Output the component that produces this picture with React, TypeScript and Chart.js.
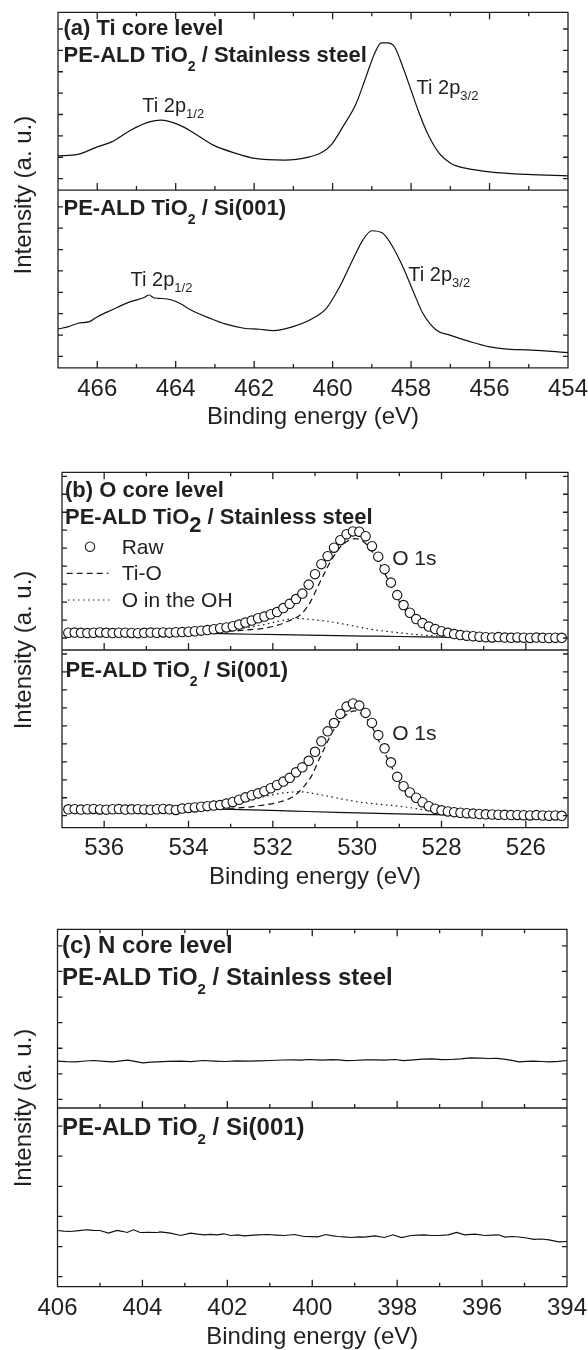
import React, { useEffect, useRef } from "react";
import { Chart, registerables } from "chart.js";

Chart.register(...registerables);

const FONT = '"Liberation Sans", Arial, Helvetica, sans-serif';
const INK = "#231f20";

// ---------------- (a) Ti core level ----------------
const tiTicks = [466, 464, 462, 460, 458, 456, 454];
const tiSteelBE = [467.0, 466.5, 466.0, 465.63, 465.15, 464.67, 464.38, 463.9, 463.52, 463.04, 462.46, 461.98, 461.22, 460.59, 460.29, 460.04, 459.74, 459.4, 459.15, 458.93, 458.76, 458.6, 458.42, 458.21, 458.0, 457.79, 457.58, 457.28, 456.98, 456.85, 456.59, 456.0, 455.05, 454.0];
const tiSteelInt = [34.3, 35.7, 43.3, 48.3, 60, 68.3, 70, 65, 56.7, 45, 36.7, 31.7, 30, 33.3, 37.3, 45, 63.3, 86.7, 113.3, 136.7, 147.3, 147.3, 143.3, 123.3, 100, 76.7, 56.7, 36.7, 26.7, 24.3, 21.7, 18.3, 15.7, 14.3];
const tiSiBE = [467.0, 466.73, 466.49, 466.2, 465.99, 465.63, 465.15, 464.8, 464.68, 464.55, 464.35, 464.1, 463.9, 463.61, 463.13, 462.74, 462.26, 461.86, 461.52, 461.01, 460.5, 460.16, 459.82, 459.49, 459.23, 459.0, 458.72, 458.47, 458.21, 457.96, 457.7, 457.36, 457.03, 456.5, 456.02, 455.54, 455.06, 454.58, 454.0];
const tiSiInt = [39, 41.3, 44.7, 46.3, 51.3, 58, 66.3, 70.5, 73, 70, 69.5, 68, 64.7, 58, 49.7, 44, 39.7, 38.7, 37.3, 41.3, 49.7, 59.7, 81.3, 108, 128, 137.3, 134.7, 121.3, 101.3, 78, 54.7, 38, 33, 26.3, 21.3, 18.7, 18, 17, 15.3];

// ---------------- (b) O core level ----------------
const oTicks = [536, 534, 532, 530, 528, 526];
const oRawBE = [
  536.85, 536.7, 536.55, 536.4, 536.25, 536.1, 535.95, 535.8, 535.65, 535.5,
  535.35, 535.2, 535.05, 534.9, 534.75, 534.6, 534.45, 534.3, 534.15, 534.0,
  533.85, 533.7, 533.55, 533.4, 533.25, 533.1, 532.95, 532.8, 532.65, 532.5,
  532.35, 532.2, 532.05, 531.9, 531.75, 531.6, 531.45, 531.3, 531.15, 531.0,
  530.85, 530.7, 530.55, 530.4, 530.25, 530.1, 529.95, 529.8, 529.65, 529.5,
  529.35, 529.2, 529.05, 528.9, 528.75, 528.6, 528.45, 528.3, 528.15, 528.0,
  527.85, 527.7, 527.55, 527.4, 527.25, 527.1, 526.95, 526.8, 526.65, 526.5,
  526.35, 526.2, 526.05, 525.9, 525.75, 525.6, 525.45, 525.3, 525.15,
];
const oSteelRaw = [
  17.3, 17.5, 17.2, 17.0, 17.3, 17.6, 17.2, 17.0, 17.3, 17.4,
  17.1, 16.9, 17.2, 17.5, 17.3, 17.6, 17.4, 17.8, 18.0, 18.3,
  18.8, 19.4, 20.0, 20.8, 21.8, 22.6, 23.8, 25.5, 27.5, 29.5,
  31.8, 33.5, 35.8, 38.0, 42.0, 46.3, 51.0, 56.5, 65.5, 76.0,
  86.0, 94.0, 102.5, 110.0, 116.0, 118.8, 118.5, 114.0, 104.0, 93.5,
  81.0, 67.5, 55.0, 45.0, 37.3, 31.0, 27.0, 23.5, 21.0, 18.8,
  17.2, 16.0, 15.0, 14.3, 13.8, 13.3, 12.8, 12.6, 12.9, 12.4,
  12.2, 12.6, 12.3, 12.1, 12.4, 12.2, 12.0, 12.3, 12.2,
];
const oSiRaw = [
  18.4, 18.6, 18.2, 18.5, 18.8, 18.3, 18.1, 18.5, 18.7, 18.2,
  18.4, 18.6, 18.3, 18.0, 18.5, 18.8, 18.4, 17.8, 19.2, 19.8,
  20.3, 21.0, 21.6, 22.2, 22.7, 24.2, 25.8, 28.0, 30.4, 32.5,
  34.4, 36.6, 39.5, 42.8, 46.2, 50.0, 55.5, 60.5, 67.0, 76.0,
  86.5, 96.5, 104.8, 114.0, 121.3, 124.4, 122.3, 115.0, 105.0, 92.8,
  79.5, 65.5, 51.0, 41.5, 35.3, 30.0, 25.5, 21.5, 19.0, 17.4,
  16.3, 15.6, 15.0, 14.5, 14.1, 13.7, 13.4, 13.2, 13.0, 12.9,
  12.6, 12.8, 12.5, 12.3, 12.6, 12.2, 12.0, 12.3, 11.9,
];
const oSteelTiOBE = [534.5, 533.5, 532.8, 532.0, 531.6, 531.3, 531.1, 530.95, 530.8, 530.6, 530.4, 530.2, 530.05, 529.9, 529.7, 529.5, 529.3, 529.1, 528.9, 528.7, 528.5, 528.3, 528.0, 527.7, 527.3, 527.0];
const oSteelTiO = [17.2, 18.2, 19.5, 23.5, 29.5, 37, 49, 62, 75, 91, 103, 110, 111.5, 110, 102, 89, 73, 56, 42, 33, 26, 20.5, 16.5, 14.3, 13.3, 12.8];
const oSteelOHBE = [534.0, 533.5, 533.0, 532.6, 532.2, 531.9, 531.6, 531.43, 531.2, 530.9, 530.63, 530.3, 530.0, 529.7, 529.37, 529.0, 528.66, 528.3, 527.9, 527.5];
const oSteelOH = [17.5, 18.3, 20.3, 22.5, 25.5, 28.5, 31, 31.7, 31, 29.7, 28.3, 25.8, 23.3, 21, 19, 17.3, 15.7, 14.6, 13.5, 12.8];
const oSteelBgBE = [534.5, 533.5, 532.5, 531.5, 530.5, 529.5, 528.5, 527.5];
const oSteelBg = [17.2, 16.6, 15.8, 15.1, 14.4, 13.8, 13.2, 12.6];
const oSiTiOBE = [534.0, 533.0, 532.22, 531.82, 531.5, 531.27, 531.07, 530.91, 530.75, 530.6, 530.4, 530.2, 530.05, 529.9, 529.7, 529.5, 529.3, 529.1, 528.9, 528.7, 528.5, 528.3, 528.0, 527.7, 527.3, 527.0];
const oSiTiO = [19.3, 19.5, 22.7, 26, 31.7, 41, 52.7, 67.7, 82, 95, 107, 115, 117, 114, 105, 88, 71, 54, 38.5, 29, 23, 18.5, 15.5, 14, 13.2, 12.9];
const oSiOHBE = [534.0, 533.5, 533.0, 532.6, 532.22, 531.8, 531.35, 531.0, 530.63, 530.3, 530.0, 529.65, 529.29, 528.98, 528.66, 528.4, 528.0, 527.6];
const oSiOH = [19.5, 20.5, 22.7, 26.5, 31, 34.5, 36, 34, 31, 28.3, 26, 24.2, 22.7, 21.5, 19.5, 17.8, 15.2, 13.8];
const oSiBgBE = [534.0, 533.5, 532.5, 531.5, 530.5, 529.5, 528.5, 527.5];
const oSiBg = [19.2, 18.9, 17.8, 16.6, 15.4, 14.3, 13.3, 12.7];

// ---------------- (c) N core level ----------------
const nTicks = [406, 404, 402, 400, 398, 396, 394];
const nSteelBE = [406.0, 405.8, 405.58, 405.35, 405.14, 404.9, 404.7, 404.5, 404.34, 404.15, 403.99, 403.8, 403.64, 403.4, 403.1, 402.85, 402.57, 402.3, 402.04, 401.8, 401.51, 401.25, 400.98, 400.7, 400.45, 400.25, 400.09, 399.9, 399.74, 399.55, 399.38, 399.2, 399.03, 398.75, 398.5, 398.3, 398.05, 397.85, 397.61, 397.4, 397.17, 396.95, 396.73, 396.5, 396.28, 396.05, 395.84, 395.65, 395.49, 395.3, 395.13, 394.95, 394.78, 394.6, 394.42, 394.2, 394.0];
const nSteelInt = [46.6, 46.2, 46.0, 46.8, 47.3, 46.5, 46.0, 46.9, 47.6, 46.2, 45.0, 45.6, 46.0, 46.4, 46.6, 46.2, 47.3, 46.7, 46.3, 46.9, 46.6, 47.0, 47.3, 47.8, 48.0, 47.6, 48.3, 47.9, 47.6, 48.2, 48.0, 47.1, 47.3, 48.0, 48.0, 47.6, 48.3, 47.2, 48.0, 48.6, 49.0, 48.2, 48.3, 49.0, 50.0, 49.6, 49.3, 49.5, 48.6, 47.4, 46.0, 46.4, 46.6, 46.3, 46.0, 46.5, 47.3];
const nSiBE = [406.0, 405.85, 405.7, 405.5, 405.31, 405.15, 405.0, 404.8, 404.6, 404.48, 404.36, 404.21, 404.05, 403.85, 403.65, 403.58, 403.34, 403.1, 402.87, 402.7, 402.55, 402.4, 402.24, 402.08, 401.92, 401.75, 401.61, 401.45, 401.29, 401.05, 400.85, 400.66, 400.42, 400.19, 400.0, 399.87, 399.68, 399.55, 399.4, 399.25, 399.09, 398.9, 398.77, 398.53, 398.3, 398.1, 397.9, 397.67, 397.5, 397.35, 397.2, 397.04, 396.8, 396.6, 396.41, 396.17, 395.93, 395.75, 395.62, 395.46, 395.3, 395.13, 394.95, 394.78, 394.6, 394.42, 394.2, 394.0];
const nSiInt = [56.0, 55.4, 55.0, 55.8, 56.7, 56.2, 56.0, 53.4, 56.0, 55.2, 54.0, 56.7, 54.0, 54.2, 54.0, 54.6, 53.4, 51.0, 53.4, 52.4, 51.7, 52.2, 51.7, 52.7, 51.0, 51.6, 50.7, 51.2, 51.7, 52.0, 51.4, 51.0, 52.0, 50.0, 49.8, 49.7, 52.0, 50.8, 50.0, 49.6, 49.0, 49.6, 49.4, 50.7, 49.0, 51.7, 49.0, 51.0, 51.3, 51.7, 51.0, 51.0, 51.7, 54.0, 51.7, 52.4, 51.0, 51.4, 51.7, 49.4, 50.0, 49.5, 48.5, 47.2, 47.5, 46.7, 44.7, 45.0];

// ---------------- helpers ----------------
type Part = { t: string; size: number; bold?: boolean; dy?: number };
type Label = { parts: Part[]; at: "top" | "mid" | "data"; x: number; y: number; axis?: string };
type LegendItem = { kind: "circle" | "dash" | "dot"; x1: number; x2?: number; y: number; text: string; tx: number; ty: number };

const pts = (xs: number[], ys: number[]) => xs.map((x, i) => ({ x, y: ys[i] }));

const lineDs = (xs: number[], ys: number[], axis: string, dash: number[] = [], smooth = true) => ({
  data: pts(xs, ys),
  yAxisID: axis,
  showLine: true,
  borderColor: "#111",
  borderWidth: 1.2,
  borderDash: dash,
  pointRadius: 0,
  cubicInterpolationMode: smooth ? "monotone" : "default",
  tension: 0,
});

const rawDs = (xs: number[], ys: number[], axis: string) => ({
  data: pts(xs, ys),
  yAxisID: axis,
  showLine: false,
  pointRadius: 4.7,
  pointBorderWidth: 1.1,
  pointBackgroundColor: "#fff",
  pointBorderColor: "#111",
});

function title(main: string, sub: string, rest: string, size: number, subSize: number, subDy: number): Part[] {
  return [
    { t: main, size, bold: true },
    { t: sub, size: subSize, bold: true, dy: subDy },
    { t: rest, size, bold: true },
  ];
}

function peak(sub: string): Part[] {
  return [
    { t: "Ti 2p", size: 20 },
    { t: sub, size: 13, dy: 6 },
  ];
}

function drawParts(ctx: CanvasRenderingContext2D, x: number, y: number, parts: Part[]) {
  let cx = x;
  for (const p of parts) {
    ctx.font = `${p.bold ? "bold " : ""}${p.size}px ${FONT}`;
    ctx.fillText(p.t, cx, y + (p.dy || 0));
    cx += ctx.measureText(p.t).width;
  }
}

function makeDecor(cfg: any) {
  return {
    id: "decor",
    afterDraw(chart: any) {
      const { ctx, chartArea: ca, scales } = chart;
      const xs = scales.x;
      const yT = scales.yTop;
      const yB = scales.yBot;
      const mid = yT.bottom;
      ctx.save();
      ctx.strokeStyle = INK;
      ctx.lineWidth = 1.3;
      ctx.setLineDash([]);
      ctx.beginPath();
      ctx.rect(ca.left, ca.top, ca.right - ca.left, ca.bottom - ca.top);
      ctx.moveTo(ca.left, mid);
      ctx.lineTo(ca.right, mid);
      const majors = new Set(xs.ticks.map((t: any) => t.value));
      for (let v = Math.ceil(xs.min); v <= Math.floor(xs.max); v++) {
        const px = xs.getPixelForValue(v);
        if (px < ca.left + 2 || px > ca.right - 2) continue;
        const len = majors.has(v) ? 7 : 4;
        ctx.moveTo(px, ca.top);
        ctx.lineTo(px, ca.top + len);
        ctx.moveTo(px, mid);
        ctx.lineTo(px, mid - len);
        ctx.moveTo(px, ca.bottom);
        ctx.lineTo(px, ca.bottom - len);
      }
      const yt: [any, any][] = [
        [yT, cfg.yTicksTop],
        [yB, cfg.yTicksBot],
      ];
      for (const [sc, t] of yt) {
        for (let v = t.first; v < sc.max - 1; v += t.step) {
          const py = sc.getPixelForValue(v);
          ctx.moveTo(ca.left, py);
          ctx.lineTo(ca.left + 5, py);
          ctx.moveTo(ca.right, py);
          ctx.lineTo(ca.right - 5, py);
        }
      }
      ctx.stroke();

      // y title
      ctx.fillStyle = INK;
      ctx.save();
      ctx.translate(24.5, (ca.top + ca.bottom) / 2 + (cfg.yTitleDy || 0));
      ctx.rotate(-Math.PI / 2);
      ctx.textAlign = "center";
      ctx.textBaseline = "middle";
      ctx.font = `24px ${FONT}`;
      ctx.fillText("Intensity (a. u.)", 0, 0);
      ctx.restore();

      ctx.textAlign = "left";
      ctx.textBaseline = "alphabetic";
      for (const lb of cfg.labels as Label[]) {
        let x: number, y: number;
        if (lb.at === "data") {
          x = xs.getPixelForValue(lb.x);
          y = scales[lb.axis as string].getPixelForValue(lb.y);
        } else {
          x = ca.left + lb.x;
          y = (lb.at === "top" ? ca.top : mid) + lb.y;
        }
        drawParts(ctx, x, y, lb.parts);
      }

      for (const it of (cfg.legend || []) as LegendItem[]) {
        const y = ca.top + it.y;
        ctx.beginPath();
        if (it.kind === "circle") {
          ctx.lineWidth = 1.1;
          ctx.setLineDash([]);
          ctx.arc(ca.left + it.x1, y, 4.7, 0, Math.PI * 2);
          ctx.stroke();
        } else {
          ctx.lineWidth = 1.2;
          ctx.setLineDash(it.kind === "dash" ? [6, 4] : [1.5, 3.5]);
          ctx.moveTo(ca.left + it.x1, y);
          ctx.lineTo(ca.left + (it.x2 as number), y);
          ctx.stroke();
        }
        ctx.setLineDash([]);
        ctx.font = `21px ${FONT}`;
        ctx.fillText(it.text, ca.left + it.tx, ca.top + it.ty);
      }
      ctx.restore();
    },
  };
}

function buildConfig(cfg: any) {
  const yBase = {
    type: "linear",
    position: "left",
    stack: "panel",
    stackWeight: 1,
    min: 0,
    max: 178,
    offset: false,
    ticks: { display: false },
    grid: { display: false, drawTicks: false },
    border: { display: false },
    title: { display: false },
  };
  return {
    type: "scatter",
    data: { datasets: cfg.datasets },
    options: {
      animation: false,
      responsive: false,
      devicePixelRatio: 1,
      events: [],
      layout: { autoPadding: false, padding: cfg.padding },
      plugins: { legend: { display: false }, tooltip: { enabled: false } },
      scales: {
        x: {
          type: "linear",
          position: "bottom",
          reverse: true,
          min: cfg.xMin,
          max: cfg.xMax,
          offset: false,
          afterBuildTicks: (s: any) => {
            s.ticks = cfg.ticks.map((v: number) => ({ value: v }));
          },
          afterFit: (s: any) => {
            s.paddingLeft = 0;
            s.paddingRight = 0;
            s.paddingTop = 0;
            s.paddingBottom = 0;
          },
          ticks: {
            padding: cfg.tickPad,
            color: INK,
            autoSkip: false,
            maxRotation: 0,
            font: { family: FONT, size: 24, lineHeight: 1.2 },
          },
          grid: { display: false, drawTicks: false },
          border: { display: false },
          title: {
            display: true,
            text: "Binding energy (eV)",
            color: INK,
            font: { family: FONT, size: 24, lineHeight: 0.5 },
            padding: { top: cfg.titlePadTop, bottom: 6 },
          },
        },
        yTop: { ...yBase, weight: 1 },
        yBot: { ...yBase, weight: 0 },
      },
    },
    plugins: [makeDecor(cfg)],
  };
}

const panelA = {
  xMin: 454,
  xMax: 467,
  ticks: tiTicks,
  padding: { left: 58, right: 20, top: 12.3, bottom: 20.3 },
  tickPad: 7.5,
  titlePadTop: 0,
  yTitleDy: 5,
  yTicksTop: { first: 11.5, step: 21.4 },
  yTicksBot: { first: 11.5, step: 21.4 },
  datasets: [lineDs(tiSteelBE, tiSteelInt, "yTop"), lineDs(tiSiBE, tiSiInt, "yBot")],
  labels: [
    { at: "top", x: 5.5, y: 22.5, parts: [{ t: "(a) Ti core level", size: 22, bold: true }] },
    { at: "top", x: 5.5, y: 49.4, parts: title("PE-ALD TiO", "2", " / Stainless steel", 22, 14, 9) },
    { at: "mid", x: 5.5, y: 24.5, parts: title("PE-ALD TiO", "2", " / Si(001)", 22, 14, 9) },
    { at: "data", axis: "yTop", x: 464.85, y: 78.3, parts: peak("1/2") },
    { at: "data", axis: "yTop", x: 457.86, y: 96.5, parts: peak("3/2") },
    { at: "data", axis: "yBot", x: 465.15, y: 82, parts: peak("1/2") },
    { at: "data", axis: "yBot", x: 458.07, y: 86.5, parts: peak("3/2") },
  ] as Label[],
};

const panelB = {
  xMin: 525,
  xMax: 537,
  ticks: oTicks,
  padding: { left: 62, right: 20, top: 22.3, bottom: 10.3 },
  tickPad: 6,
  titlePadTop: 3.2,
  yTicksTop: { first: 12, step: 18 },
  yTicksBot: { first: 12, step: 18 },
  datasets: [
    rawDs(oRawBE, oSteelRaw, "yTop"),
    rawDs(oRawBE, oSiRaw, "yBot"),
    lineDs(oSteelTiOBE, oSteelTiO, "yTop", [6, 4]),
    lineDs(oSteelOHBE, oSteelOH, "yTop", [1.5, 3.5]),
    lineDs(oSteelBgBE, oSteelBg, "yTop"),
    lineDs(oSiTiOBE, oSiTiO, "yBot", [6, 4]),
    lineDs(oSiOHBE, oSiOH, "yBot", [1.5, 3.5]),
    lineDs(oSiBgBE, oSiBg, "yBot"),
  ],
  labels: [
    { at: "top", x: 3, y: 24.4, parts: [{ t: "(b) O core level", size: 22, bold: true }] },
    { at: "top", x: 3, y: 51.7, parts: title("PE-ALD TiO", "2", " / Stainless steel", 22, 22, 7.5) },
    { at: "mid", x: 3.5, y: 26.5, parts: title("PE-ALD TiO", "2", " / Si(001)", 22, 14, 9) },
    { at: "data", axis: "yTop", x: 529.17, y: 85, parts: [{ t: "O 1s", size: 21 }] },
    { at: "data", axis: "yBot", x: 529.17, y: 87.7, parts: [{ t: "O 1s", size: 21 }] },
  ] as Label[],
  legend: [
    { kind: "circle", x1: 28, y: 74.4, text: "Raw", tx: 59.7, ty: 81.5 },
    { kind: "dash", x1: 4.7, x2: 46.3, y: 101, text: "Ti-O", tx: 59.7, ty: 107.5 },
    { kind: "dot", x1: 6, x2: 51, y: 127.7, text: "O in the OH", tx: 59.7, ty: 134.5 },
  ] as LegendItem[],
};

const panelC = {
  xMin: 394,
  xMax: 406,
  ticks: nTicks,
  padding: { left: 57.5, right: 21, top: 29.3, bottom: 0.3 },
  tickPad: 7,
  titlePadTop: 2.2,
  yTicksTop: { first: 8.5, step: 25.5 },
  yTicksBot: { first: 10, step: 30 },
  datasets: [lineDs(nSteelBE, nSteelInt, "yTop", [], false), lineDs(nSiBE, nSiInt, "yBot", [], false)],
  labels: [
    { at: "top", x: 4.5, y: 23.7, parts: [{ t: "(c) N core level", size: 24, bold: true }] },
    { at: "top", x: 4.5, y: 55.7, parts: title("PE-ALD TiO", "2", " / Stainless steel", 24, 15, 9) },
    { at: "mid", x: 4.5, y: 26.7, parts: title("PE-ALD TiO", "2", " / Si(001)", 24, 15, 9) },
  ] as Label[],
};

function Panel({ cfg, top }: { cfg: any; top: number }) {
  const ref = useRef<HTMLCanvasElement | null>(null);
  useEffect(() => {
    if (!ref.current) return;
    const chart = new Chart(ref.current, buildConfig(cfg) as any);
    return () => chart.destroy();
  }, [cfg]);
  return (
    <canvas
      ref={ref}
      width={588}
      height={450}
      style={{ position: "absolute", left: 0, top, width: 588, height: 450 }}
    />
  );
}

export default function App() {
  return (
    <div style={{ position: "absolute", left: 0, top: 0, width: 588, height: 1350, background: "#fff", overflow: "hidden" }}>
      <Panel cfg={panelA} top={0} />
      <Panel cfg={panelB} top={450} />
      <Panel cfg={panelC} top={900} />
    </div>
  );
}
